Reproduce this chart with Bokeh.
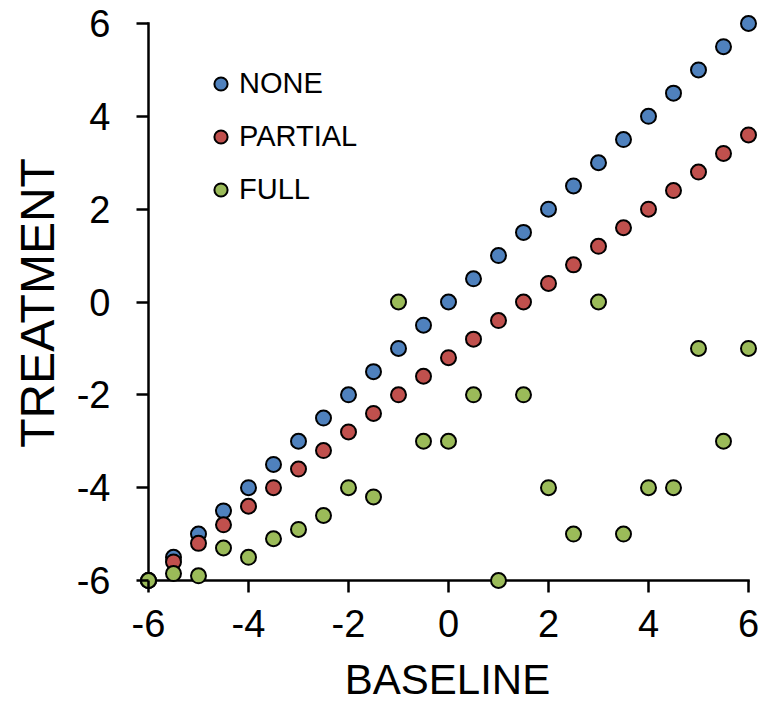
from bokeh.plotting import figure
from bokeh.models import (ColumnDataSource, Range1d, FixedTicker, Legend, LegendItem,
                          CustomJSTickFormatter)
from bokeh.embed import file_html
from bokeh.resources import INLINE

baseline = [-6, -5.5, -5, -4.5, -4, -3.5, -3, -2.5, -2, -1.5, -1, -0.5, 0,
            0.5, 1, 1.5, 2, 2.5, 3, 3.5, 4, 4.5, 5, 5.5, 6]
none_vals = [-6, -5.5, -5, -4.5, -4, -3.5, -3, -2.5, -2, -1.5, -1, -0.5, 0,
             0.5, 1, 1.5, 2, 2.5, 3, 3.5, 4, 4.5, 5, 5.5, 6]
partial_vals = [-6, -5.6, -5.2, -4.8, -4.4, -4, -3.6, -3.2, -2.8, -2.4, -2, -1.6, -1.2,
                -0.8, -0.4, 0, 0.4, 0.8, 1.2, 1.6, 2, 2.4, 2.8, 3.2, 3.6]
full_vals = [-6, -5.85, -5.9, -5.3, -5.5, -5.1, -4.9, -4.6, -4, -4.2, 0, -3, -3,
             -2, -6, -2, -4, -5, 0, -5, -4, -4, -1, -3, -1]
series_names = ["NONE", "PARTIAL", "FULL"]
series_colors = ["#4F81BD", "#C0504D", "#9BBB59"]
ticks = [-6, -4, -2, 0, 2, 4, 6]

FONT = "Liberation Sans"

# frame: 12 px of room outside -6 (for the ticks), 10 px beyond 6 (for markers)
x_pad_lo, x_pad_hi = 12 / 50.0, 10 / 50.0
y_pad_lo, y_pad_hi = 12 / (557 / 12.0), 10 / (557 / 12.0)

p = figure(width=772, height=708, output_backend="svg", toolbar_location=None,
           x_range=Range1d(ticks[0] - x_pad_lo, ticks[-1] + x_pad_hi),
           y_range=Range1d(ticks[0] - y_pad_lo, ticks[-1] + y_pad_hi),
           min_border_left=136, min_border_right=14, min_border_top=13, min_border_bottom=116)
p.outline_line_color = None
p.grid.visible = False
p.background_fill_color = "white"
p.border_fill_color = "white"

for ax in (p.xaxis[0], p.yaxis[0]):
    ax.ticker = FixedTicker(ticks=ticks)
    ax.formatter = CustomJSTickFormatter(code="return tick.toString();")
    ax.minor_tick_line_color = None
    ax.major_tick_in = 12
    ax.major_tick_out = 0
    ax.axis_line_color = None
    ax.major_tick_line_width = 2.5
    ax.major_tick_line_color = "black"
    ax.major_label_text_font = FONT
    ax.major_label_text_font_size = "38px"
    ax.major_label_text_color = "black"
    ax.axis_label_text_font = FONT
    ax.axis_label_text_font_style = "normal"
    ax.axis_label_text_color = "black"

p.xaxis[0].axis_label = "BASELINE"
p.yaxis[0].axis_label = "TREATMENT"
p.xaxis[0].axis_label_text_font_size = "42px"
p.yaxis[0].axis_label_text_font_size = "48px"
p.xaxis[0].major_label_standoff = 17
p.xaxis[0].axis_label_standoff = 16
p.yaxis[0].major_label_standoff = 26
p.yaxis[0].axis_label_standoff = 10

# axis lines crossing at (-6, -6)
p.segment(x0=[ticks[0], ticks[0]], y0=[ticks[0], ticks[0]],
          x1=[ticks[-1], ticks[0]], y1=[ticks[0], ticks[-1]],
          line_color="black", line_width=2.5, line_cap="square")

items = []
for name, vals, col in zip(series_names, [none_vals, partial_vals, full_vals], series_colors):
    src = ColumnDataSource(dict(x=baseline, y=vals))
    r = p.scatter("x", "y", source=src, size=15, fill_color=col, line_color="black", line_width=2)
    items.append(LegendItem(label=name, renderers=[r]))

leg = Legend(items=items, location=(68, 386), orientation="vertical",
             glyph_width=33, glyph_height=33, label_height=33, spacing=20,
             label_standoff=2, padding=0, margin=0,
             label_text_font=FONT, label_text_font_size="29px", label_text_color="black",
             border_line_color=None, background_fill_alpha=0)
p.add_layout(leg)

open("out.html", "w").write(file_html(p, INLINE))
